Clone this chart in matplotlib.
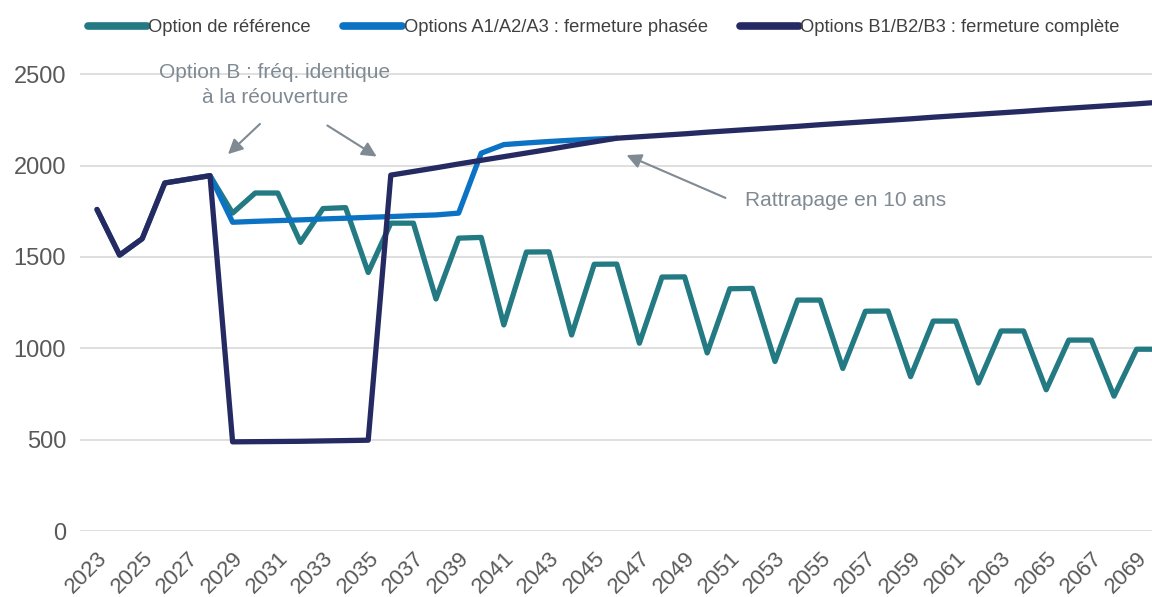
import matplotlib

matplotlib.use("Agg")
import matplotlib.pyplot as plt
import numpy as np
from matplotlib.lines import Line2D

YEARS = list(range(2023, 2071))

REFERENCE = [
    1760, 1510, 1600, 1905, 1925, 1945,
    1740, 1850, 1850, 1580, 1765, 1770, 1415, 1685, 1685, 1270,
    1603, 1607, 1128, 1527, 1528, 1073, 1460, 1461, 1028, 1390,
    1391, 975, 1326, 1328, 928, 1264, 1264, 890, 1203, 1204,
    845, 1149, 1149, 810, 1095, 1095, 773, 1045, 1045, 738,
    995, 995,
]

# phased closure, only drawn where it differs from the full closure line
OPTION_A = [
    np.nan, np.nan, np.nan, np.nan, np.nan, 1945,
    1690, 1695, 1699, 1703, 1708, 1712, 1717, 1721, 1726, 1730,
    1740, 2068, 2115, 2124, 2132, 2139, 2145, 2150,
] + [np.nan] * 24

OPTION_B = [
    1760, 1510, 1600, 1905, 1925, 1945,
    488, 489, 490, 491, 493, 495, 497,
    1948, 1968, 1988, 2009, 2029, 2049, 2069, 2089, 2110, 2130, 2150,
    2158, 2166, 2174, 2183, 2191, 2199, 2207, 2215, 2224, 2232,
    2240, 2248, 2256, 2265, 2273, 2281, 2289, 2297, 2306, 2314,
    2322, 2330, 2338, 2347,
]

LABELS = [
    "Option de référence",
    "Options A1/A2/A3 : fermeture phasée",
    "Options B1/B2/B3 : fermeture complète",
]
COLORS = ["#237a83", "#0b72c4", "#262a62"]
Y_TICKS = [0, 500, 1000, 1500, 2000, 2500]
X_TICKS = list(range(2023, 2070, 2))

TEXT_GREY = "#595959"
NOTE_GREY = "#7f8a93"

W, H = 1152, 597
AX_LEFT = 80


def px_x(px: float) -> float:
    return 2022 + (px - 74.4) / 22.6


def px_y(py: float) -> float:
    return (531 - py) / 0.1827


plt.rcParams["font.family"] = ["Liberation Sans", "DejaVu Sans"]

fig = plt.figure(figsize=(W / 100, H / 100), dpi=100)
ax = fig.add_axes([AX_LEFT / W, (H - 531) / H, (W - AX_LEFT) / W, (531 - 56) / H])

line_kw = dict(lw=3.8, solid_joinstyle="round", solid_capstyle="round")
for values, color in zip([REFERENCE, OPTION_A, OPTION_B], COLORS):
    ax.plot(YEARS, values, color=color, **line_kw)

ax.set_xlim(px_x(AX_LEFT), px_x(W))
ax.set_ylim(0, 2600)
ax.set_yticks(Y_TICKS)
ax.set_yticklabels([str(v) for v in Y_TICKS], fontsize=17, color=TEXT_GREY)
ax.set_xticks(X_TICKS)
ax.set_xticklabels(
    [str(v) for v in X_TICKS],
    rotation=45,
    ha="right",
    rotation_mode="anchor",
    fontsize=16,
    color=TEXT_GREY,
)
ax.tick_params(axis="both", length=0)
ax.tick_params(axis="y", pad=10)
ax.tick_params(axis="x", pad=12)
ax.grid(axis="y", color="#d9d9d9", lw=1.2)
ax.set_axisbelow(True)
for spine in ax.spines.values():
    spine.set_visible(False)

arrow_kw = dict(arrowstyle="-|>", color=NOTE_GREY, lw=1.5, mutation_scale=22)
ax.text(
    px_x(275), px_y(85), "Option B : fréq. identique\nà la réouverture",
    ha="center", va="center", fontsize=15, color=NOTE_GREY, linespacing=1.35,
)
ax.annotate("", xy=(px_x(226), px_y(156)), xytext=(px_x(262), px_y(122)),
            arrowprops=arrow_kw)
ax.annotate("", xy=(px_x(379), px_y(158)), xytext=(px_x(325), px_y(124)),
            arrowprops=arrow_kw)
ax.annotate("", xy=(px_x(624), px_y(154)), xytext=(px_x(728), px_y(199)),
            arrowprops=arrow_kw)
ax.text(px_x(745), px_y(200), "Rattrapage en 10 ans", ha="left",
        va="center", fontsize=15, color=NOTE_GREY)

handles = [
    Line2D([], [], color=c, lw=5.5, solid_capstyle="round") for c in COLORS
]
fig.legend(
    handles,
    LABELS,
    loc="upper left",
    bbox_to_anchor=(88 / W, 1 - 19 / H),
    ncol=3,
    frameon=False,
    fontsize=13.2,
    labelcolor="#404040",
    handlelength=3.2,
    handletextpad=0.1,
    columnspacing=1.75,
    borderpad=0,
    borderaxespad=0,
)

fig.savefig("out.png", dpi=100)
